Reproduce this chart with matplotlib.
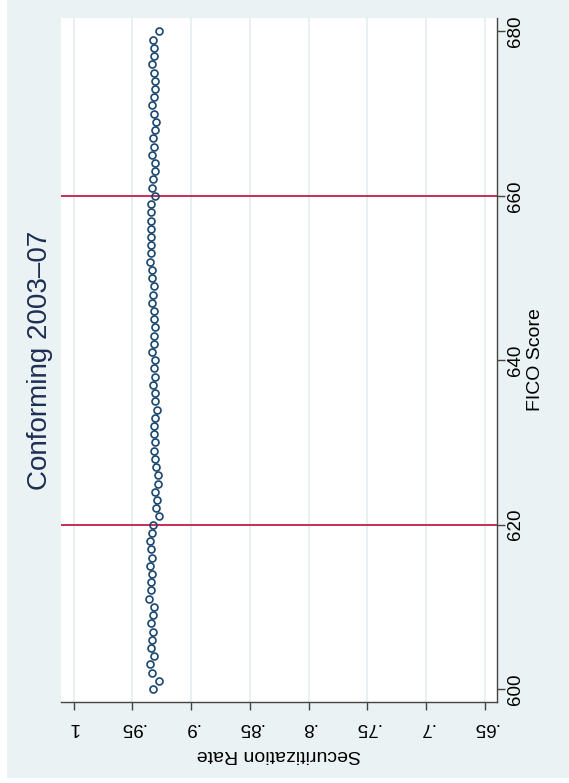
import matplotlib
matplotlib.use('Agg')
import matplotlib.pyplot as plt
from matplotlib.patches import Rectangle

plt.rcParams['font.family'] = ['Liberation Sans', 'DejaVu Sans']

fico = list(range(600, 681))
rate = [0.9322, 0.9273, 0.9330, 0.9347, 0.9313, 0.9339, 0.9330, 0.9325, 0.9342, 0.9322,
        0.9319, 0.9359, 0.9342, 0.9342, 0.9336, 0.9347, 0.9333, 0.9344, 0.9350, 0.9336,
        0.9322, 0.9271, 0.9299, 0.9288, 0.9305, 0.9279, 0.9279, 0.9299, 0.9310, 0.9313,
        0.9305, 0.9316, 0.9316, 0.9310, 0.9293, 0.9308, 0.9305, 0.9322, 0.9305, 0.9319,
        0.9305, 0.9336, 0.9316, 0.9319, 0.9308, 0.9313, 0.9319, 0.9330, 0.9327, 0.9316,
        0.9330, 0.9330, 0.9347, 0.9342, 0.9342, 0.9342, 0.9342, 0.9342, 0.9342, 0.9344,
        0.9310, 0.9333, 0.9325, 0.9310, 0.9305, 0.9330, 0.9313, 0.9322, 0.9310, 0.9299,
        0.9316, 0.9336, 0.9313, 0.9310, 0.9310, 0.9313, 0.9336, 0.9319, 0.9319, 0.9322,
        0.9271]
cutoffs = [620, 660]
rate_ticks = [1, 0.95, 0.9, 0.85, 0.8, 0.75, 0.7, 0.65]
rate_labels = ['1', '.95', '.9', '.85', '.8', '.75', '.7', '.65']
fico_ticks = [600, 620, 640, 660, 680]

navy = '#1A476F'
red = '#C41E4A'
bg = '#EAF2F3'
W, H = 569, 783

fig = plt.figure(figsize=(W / 100, H / 100), dpi=100)
fig.patch.set_facecolor('white')
fig.add_artist(Rectangle((7 / W, 5 / H), 1, 1, transform=fig.transFigure,
                         facecolor=bg, edgecolor='none', zorder=-10))

ax = fig.add_axes([61 / W, (H - 701.7) / H, 435.7 / W, 683.7 / H])
ax.set_zorder(5)
ax.set_facecolor('white')

for t in rate_ticks:
    ax.axvline(t, color='#E1ECEF', lw=1.1, zorder=1)
for c in cutoffs:
    ax.axhline(c, color=red, lw=1.3, zorder=2)
ax.plot(rate, fico, 'o', mfc='none', mec=navy, ms=5, mew=1.2, zorder=3)

ax.set_xlim(1.0108, 0.6398)
ax.set_ylim(598.46, 681.64)

for s in ['top', 'left']:
    ax.spines[s].set_visible(False)
for s in ['bottom', 'right']:
    ax.spines[s].set_color('#444444')
    ax.spines[s].set_linewidth(1.0)

ax.set_xticks(rate_ticks)
ax.set_xticklabels(rate_labels, rotation=180)
ax.yaxis.tick_right()
ax.set_yticks(fico_ticks)
ax.set_yticklabels([str(v) for v in fico_ticks], rotation=90, va='center')
ax.tick_params(axis='x', length=5.8, width=1, color='#444444', labelsize=13.5, pad=7)
ax.tick_params(axis='y', length=5.8, width=1, color='#444444', labelsize=13.5, pad=1.5)

fig.text(40 / W, 1 - 360 / H, 'Conforming 2003\u201307', rotation=90,
         ha='center', va='center', fontsize=20, color='#1E2D53')
fig.text(279 / W, 1 - 754.5 / H, 'Securitization Rate', rotation=180,
         ha='center', va='center', fontsize=14)
fig.text(536 / W, 1 - 360 / H, 'FICO Score', rotation=90,
         ha='center', va='center', fontsize=14)

fig.savefig('out.png', dpi=100)
